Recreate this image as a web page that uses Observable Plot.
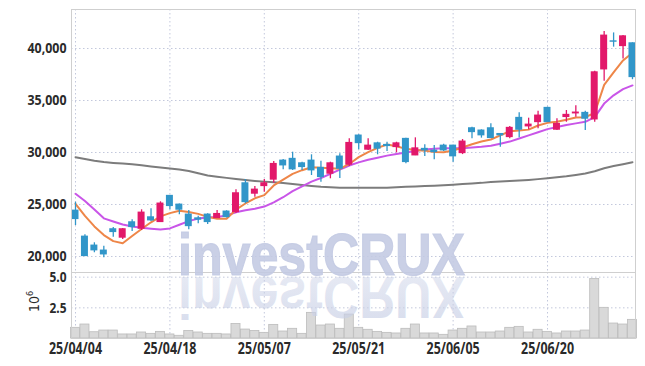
<!DOCTYPE html>
<html><head><meta charset="utf-8">
<script src="https://cdn.jsdelivr.net/npm/d3@7"></script>
<script src="https://cdn.jsdelivr.net/npm/@observablehq/plot@0.6"></script>
<style>
body{margin:0;background:#fff;}
#wrap{position:relative;width:645px;height:366px;overflow:hidden;font-family:"DejaVu Sans Condensed","DejaVu Sans",sans-serif;}
#wrap svg{position:absolute;left:0;}
</style></head><body><div id="wrap"></div>
<script>
const dates = ["25/04/04","25/04/07","25/04/08","25/04/09","25/04/10","25/04/11","25/04/14","25/04/15","25/04/16","25/04/17",
"25/04/18","25/04/21","25/04/22","25/04/23","25/04/24","25/04/25","25/04/28","25/04/29","25/04/30","25/05/02",
"25/05/07","25/05/08","25/05/09","25/05/12","25/05/13","25/05/14","25/05/15","25/05/16","25/05/19","25/05/20",
"25/05/21","25/05/22","25/05/23","25/05/26","25/05/27","25/05/28","25/05/29","25/05/30","25/06/02","25/06/04",
"25/06/05","25/06/09","25/06/10","25/06/11","25/06/12","25/06/13","25/06/16","25/06/17","25/06/18","25/06/19",
"25/06/20","25/06/23","25/06/24","25/06/25","25/06/26","25/06/27","25/06/30","25/07/01","25/07/02","25/07/03"];
const open  = [24420,21920,21060,20580,22630,21800,23300,22660,23780,23300,25840,25000,24040,23680,24040,23680,24330,24260,27050,26030,
26760,27380,29230,29400,28970,29230,28530,27950,29620,28820,31640,30260,30890,30740,30510,31320,29710,30360,30190,30670,
30670,29930,32340,32120,32340,31790,31470,33340,32500,32910,34300,32180,33400,33750,33820,33170,37980,40700,40220,40510];
const high  = [25220,22090,21320,20990,22790,22700,23530,24490,24580,25260,25870,25050,24420,23880,24100,24420,24400,26410,27400,26730,
27400,29140,29330,30030,29070,29780,29160,29070,29880,31320,31700,31320,30990,30990,30990,31380,31410,30740,30670,30800,
30700,31250,32430,32180,32760,31800,32500,33820,33300,33970,34360,33240,34040,34490,33970,37820,41640,41500,41250,40550];
const low   = [22980,20000,20360,19880,21860,21640,22400,22500,23370,23270,24490,24010,22570,23140,23080,23650,23700,24140,25070,25700,
26180,27050,28340,28270,28270,27790,27140,27470,27500,28650,30260,30200,29780,30100,29970,28910,29700,29620,29300,30100,
29070,29800,31320,31380,31350,30500,31320,31410,32180,32280,32900,32120,32910,33400,32120,32910,36860,40130,38990,37000];
const close = [23590,20030,20580,20190,22340,22630,22820,24230,23460,25100,24840,24490,22910,23530,23300,24100,23780,26090,25220,26440,
27050,28910,28750,28370,28590,28270,27630,28970,28430,30930,30890,30670,30360,30610,30890,29070,30410,30190,30030,30190,
29620,31060,31950,31640,31380,31640,32380,32180,32690,33560,32910,32760,33630,33850,33240,37720,41250,40640,41180,37240];
const ma5   = [25070,23900,22890,22060,21480,21280,21970,22640,23290,23860,24170,24400,24280,24100,23810,23640,23620,24500,25100,25600,
25900,26830,27400,27950,28300,28580,28530,28480,28430,28900,29550,30030,30450,30770,30600,30350,30250,30180,30050,30030,
30190,30480,30800,31050,31250,31650,32050,32120,32200,32600,32850,32950,33150,33370,33400,33800,36500,37700,38850,39600];
const ma20  = [26030,25330,24520,23670,23370,23080,22880,22760,22670,22600,22700,23050,23400,23650,23750,23800,23950,24250,24450,24600,
24800,25200,25700,26280,26750,27200,27550,27950,28350,28750,29050,29300,29500,29700,29850,30000,30150,30300,30370,30400,
30400,30420,30480,30550,30650,30850,31050,31350,31650,31950,32250,32450,32650,32800,32950,33400,34700,35500,36100,36450];
const ma120 = [29550,29380,29210,29080,29000,28940,28860,28770,28660,28560,28460,28360,28230,28010,27780,27660,27560,27460,27360,27270,
27200,27130,27060,26970,26880,26790,26710,26660,26620,26600,26600,26600,26600,26610,26660,26700,26740,26780,26810,26850,
26900,26960,27020,27080,27170,27210,27260,27300,27360,27440,27530,27620,27710,27840,27980,28200,28480,28700,28880,29070];
const volumeM = [0.87,1.14,0.51,0.65,0.65,0.33,0.33,0.49,0.38,0.54,0.33,0.22,0.62,0.49,0.38,0.38,0.33,1.19,0.73,0.62,
0.46,1.11,0.57,0.79,0.38,2.09,1.06,1.14,0.79,1.95,0.87,0.71,0.54,0.46,0.41,0.79,1.14,0.41,0.41,0.30,
0.65,0.79,0.98,0.49,0.49,0.57,0.87,0.95,0.49,0.71,0.54,0.41,0.57,0.57,0.65,4.85,2.50,1.22,1.14,1.52];
const priceTicks = [20000,25000,30000,35000,40000];
const volTicks = [2.5,5.0];
const dateTickIdx = [0,10,20,30,40,50];

const UP = "#E2186A", DOWN = "#3196C9", GRID = "#c3c8dc";
const idx = d3.range(dates.length);
const candles = idx.map(i => ({i, open: open[i], high: high[i], low: low[i], close: close[i], up: close[i] >= open[i]}));
const xDomain = [-0.424, 59.32];
const wrap = document.getElementById("wrap");

const price = Plot.plot({
  width: 645, height: 272, marginTop: 9, marginBottom: 0, marginLeft: 71, marginRight: 10,
  style: {background: "transparent", fontSize: "15px", fontWeight: "bold", color: "#2a2a2a"},
  x: {domain: xDomain, axis: null},
  y: {domain: [18462, 43750], ticks: priceTicks, tickFormat: d3.format(","), tickSize: 0, tickPadding: 5, label: null},
  marks: [
    Plot.ruleY(priceTicks, {stroke: GRID, strokeDasharray: "1.5,2.5"}),
    Plot.ruleX(dateTickIdx, {stroke: GRID, strokeDasharray: "1.5,2.5"}),
    Plot.line(idx, {x: i => i, y: i => ma120[i], stroke: "#7c7c7c", strokeWidth: 2}),
    Plot.line(idx, {x: i => i, y: i => ma20[i], stroke: "#C955E8", strokeWidth: 2}),
    Plot.line(idx, {x: i => i, y: i => ma5[i], stroke: "#EE8648", strokeWidth: 2}),
    Plot.ruleX(candles, {x: "i", y1: "low", y2: "high", stroke: d => d.up ? UP : DOWN, strokeWidth: 1.3}),
    Plot.rect(candles, {x1: d => d.i - 0.37, x2: d => d.i + 0.37, y1: d => Math.min(d.open, d.close) - 40, y2: d => Math.max(d.open, d.close) + 40, fill: d => d.up ? UP : DOWN}),
    Plot.frame({stroke: "#cfcfcf"})
  ]
});
price.style.top = "0px";
wrap.appendChild(price);

const vol = Plot.plot({
  width: 645, height: 104, marginTop: 10, marginBottom: 28, marginLeft: 71, marginRight: 10,
  style: {background: "transparent", fontSize: "15px", fontWeight: "bold", color: "#2a2a2a"},
  x: {domain: xDomain, ticks: dateTickIdx, tickFormat: i => dates[i], tickSize: 0, tickPadding: 4, label: null},
  y: {domain: [0, 5.38], ticks: volTicks, tickFormat: d3.format(".1f"), tickSize: 0, tickPadding: 5, label: null},
  marks: [
    Plot.ruleY(volTicks, {stroke: GRID, strokeDasharray: "1.5,2.5"}),
    Plot.ruleX(dateTickIdx, {stroke: GRID, strokeDasharray: "1.5,2.5"}),
    Plot.rectY(idx, {x1: i => i - 0.48, x2: i => i + 0.48, y: i => volumeM[i], fill: "#d9d9d9", stroke: "#bcbcbc", strokeWidth: 0.8}),
    Plot.frame({stroke: "#cfcfcf"})
  ]
});
vol.style.top = "262px";
wrap.appendChild(vol);

// condense tick labels to match the narrow font of the original
d3.select(wrap).selectAll("svg text").each(function() {
  const t = this.textContent;
  const len = t.length === 8 ? 53 : t.length === 6 ? 39 : t.length === 3 ? 17 : null;
  const s = d3.select(this);
  if (len) s.attr("textLength", len).attr("lengthAdjust", "spacingAndGlyphs");
  if (t.length === 8) s.attr("font-size", 16);
});

// watermark + volume unit label
const ov = d3.select(wrap).append("svg").attr("width", 645).attr("height", 366).style("top", "0px").style("pointer-events", "none");
const defs = ov.append("defs");
const g = defs.append("linearGradient").attr("id", "fade").attr("x1", 0).attr("y1", 0).attr("x2", 0).attr("y2", 1);
g.append("stop").attr("offset", "0").attr("stop-color", "#c9d0e6").attr("stop-opacity", 0.75);
g.append("stop").attr("offset", "1").attr("stop-color", "#c9d0e6").attr("stop-opacity", 0.4);
ov.append("text").attr("x", 178).attr("y", 275).attr("font-size", 60).attr("font-weight", "bold")
  .attr("font-family", "Liberation Sans, Arial, sans-serif").attr("textLength", 287).attr("lengthAdjust", "spacingAndGlyphs")
  .attr("fill", "#c3cae3").attr("fill-opacity", 0.88).attr("stroke", "#c3cae3").attr("stroke-width", 1.2).attr("stroke-opacity", 0.88)
  .text("investCRUX");
ov.append("text").attr("x", 178).attr("y", 275).attr("font-size", 60).attr("font-weight", "bold")
  .attr("font-family", "Liberation Sans, Arial, sans-serif").attr("textLength", 287).attr("lengthAdjust", "spacingAndGlyphs")
  .attr("transform", "translate(0,552) scale(1,-1)").attr("fill", "url(#fade)").text("investCRUX");
const u = ov.append("text").attr("transform", "translate(39,312) rotate(-90)").attr("font-size", 14).attr("fill", "#2a2a2a")
  .attr("font-family", "DejaVu Sans Condensed, DejaVu Sans, sans-serif");
u.append("tspan").text("10");
u.append("tspan").attr("dy", -6).attr("font-size", 9).text("6");
</script></body></html>
